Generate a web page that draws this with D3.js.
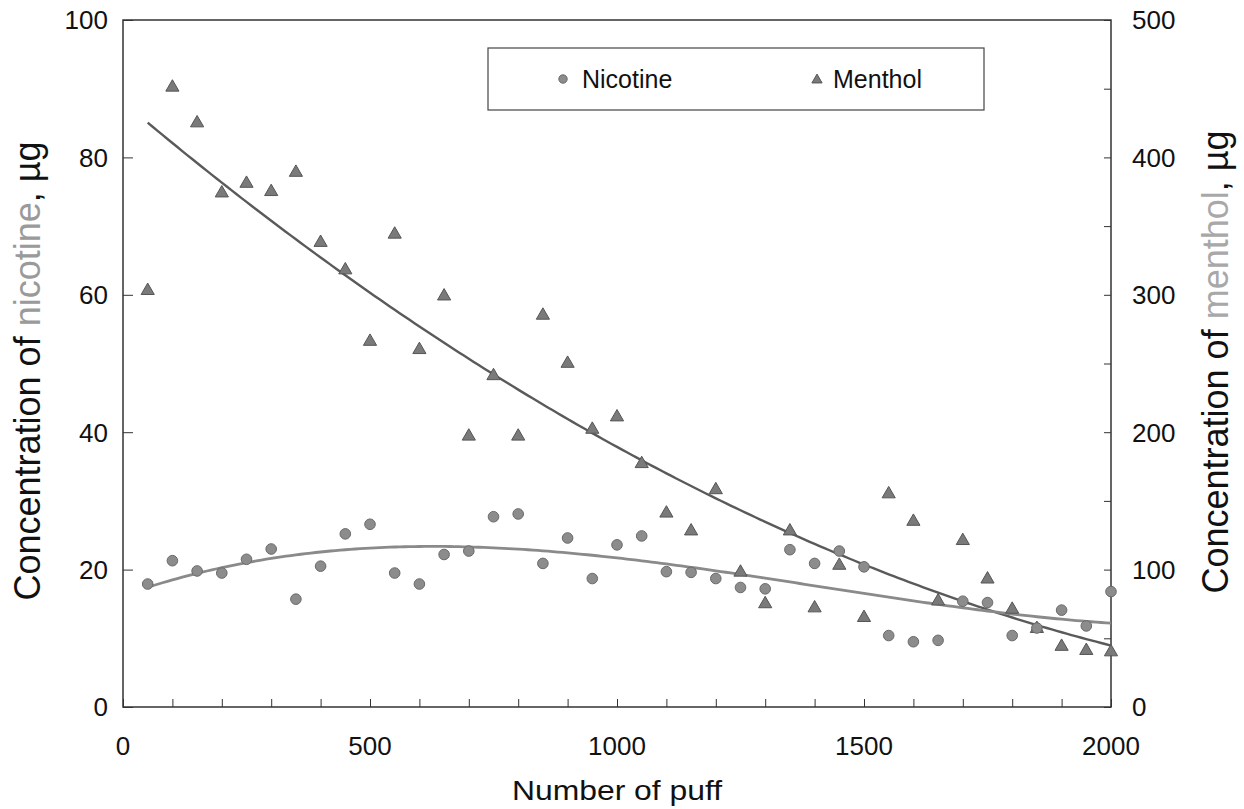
<!DOCTYPE html>
<html>
<head>
<meta charset="utf-8">
<script src="https://cdn.jsdelivr.net/npm/d3@7"></script>
<style>
  body { margin: 0; background: #fff; }
  text { font-family: "Liberation Sans", Arial, sans-serif; fill: #111; }
</style>
</head>
<body>
<div id="chart"></div>
<script>
var width  = 1244,
    height = 809,
    margin = { top: 20, right: 133, bottom: 102, left: 123 };

// puff number for every sample
var puffs = [50, 100, 150, 200, 250, 300, 350, 400, 450, 500,
             550, 600, 650, 700, 750, 800, 850, 900, 950, 1000,
             1050, 1100, 1150, 1200, 1250, 1300, 1350, 1400, 1450, 1500,
             1550, 1600, 1650, 1700, 1750, 1800, 1850, 1900, 1950, 2000];

// nicotine, µg (left axis)
var nicotine = [17.9, 21.3, 19.8, 19.5, 21.5, 23.0, 15.7, 20.5, 25.2, 26.6,
                19.5, 17.9, 22.2, 22.7, 27.7, 28.1, 20.9, 24.6, 18.7, 23.6,
                24.9, 19.7, 19.6, 18.7, 17.4, 17.2, 22.9, 20.9, 22.7, 20.4,
                10.4, 9.5, 9.7, 15.4, 15.2, 10.4, 11.5, 14.1, 11.8, 16.8];

// menthol, µg (right axis)
var menthol = [303, 451, 425, 374, 381, 375, 389, 338, 318, 266,
               344, 260, 299, 197, 241, 197, 285, 250, 202, 211,
               177, 141, 128, 158, 98, 75, 128, 72, 103, 65,
               155, 135, 77, 121, 93, 71, 57, 44, 41, 40];

var xTicks = [0, 500, 1000, 1500, 2000];
var yLeftTicks = [0, 20, 40, 60, 80, 100];
var yRightTicks = [0, 100, 200, 300, 400, 500];

var innerW = width - margin.left - margin.right,
    innerH = height - margin.top - margin.bottom;

var x = d3.scaleLinear().domain([0, 2000]).range([0, innerW]);
var yL = d3.scaleLinear().domain([0, 100]).range([innerH, 0]);
var yR = d3.scaleLinear().domain([0, 500]).range([innerH, 0]);

var svg = d3.select("#chart").append("svg")
    .attr("width", width)
    .attr("height", height);

var plot = svg.append("g")
    .attr("transform", "translate(" + margin.left + "," + margin.top + ")");

// least squares polynomial, like a spreadsheet trendline
function polyFit(xs, ys, order) {
    var n = order + 1, A = [], i, j, k;
    for (i = 0; i < n; i++) {
        A.push([]);
        for (j = 0; j < n; j++) {
            A[i].push(d3.sum(xs, function(v) { return Math.pow(v / 1000, i + j); }));
        }
        A[i].push(d3.sum(xs, function(v, idx) { return ys[idx] * Math.pow(v / 1000, i); }));
    }
    for (i = 0; i < n; i++) {
        for (k = i + 1; k < n; k++) {
            var f = A[k][i] / A[i][i];
            for (j = i; j <= n; j++) A[k][j] -= f * A[i][j];
        }
    }
    var c = new Array(n);
    for (i = n - 1; i >= 0; i--) {
        var s = A[i][n];
        for (j = i + 1; j < n; j++) s -= A[i][j] * c[j];
        c[i] = s / A[i][i];
    }
    return function(v) {
        return d3.sum(c, function(cc, p) { return cc * Math.pow(v / 1000, p); });
    };
}

// frame
plot.append("rect")
    .attr("width", innerW)
    .attr("height", innerH)
    .attr("fill", "none")
    .attr("stroke", "#333")
    .attr("stroke-width", 1.5);

// bottom axis, ticks pointing inward
var gx = plot.append("g")
    .attr("transform", "translate(0," + innerH + ")")
    .call(d3.axisBottom(x).tickValues(d3.range(0, 2001, 100)).tickSize(-8).tickFormat(""));
gx.select(".domain").remove();
gx.selectAll("line").attr("stroke", "#333");

plot.selectAll(".xlab")
    .data(xTicks)
    .enter().append("text")
    .attr("x", function(d) { return x(d); })
    .attr("y", innerH + 48)
    .attr("text-anchor", "middle")
    .style("font-size", "26px")
    .text(function(d) { return d; });

// left axis
var gl = plot.append("g")
    .call(d3.axisLeft(yL).tickValues(yLeftTicks).tickSize(-10).tickFormat(""));
gl.select(".domain").remove();
gl.selectAll("line").attr("stroke", "#333");

plot.selectAll(".ylab")
    .data(yLeftTicks)
    .enter().append("text")
    .attr("x", -15)
    .attr("y", function(d) { return yL(d); })
    .attr("dy", "0.36em")
    .attr("text-anchor", "end")
    .style("font-size", "26px")
    .text(function(d) { return d; });

// right axis
var gr = plot.append("g")
    .attr("transform", "translate(" + innerW + ",0)")
    .call(d3.axisRight(yR).tickValues(d3.range(0, 501, 50)).tickSize(-7).tickFormat(""));
gr.select(".domain").remove();
gr.selectAll("line").attr("stroke", "#333");

plot.selectAll(".yrlab")
    .data(yRightTicks)
    .enter().append("text")
    .attr("x", innerW + 21)
    .attr("y", function(d) { return yR(d); })
    .attr("dy", "0.36em")
    .attr("text-anchor", "start")
    .style("font-size", "26px")
    .text(function(d) { return d; });

// trendlines
var fitN = polyFit(puffs, nicotine, 3);
var fitM = polyFit(puffs, menthol, 2);
var xs = d3.range(50, 2001, 10);

plot.append("path")
    .datum(xs)
    .attr("fill", "none")
    .attr("stroke", "#5a5a5a")
    .attr("stroke-width", 2.4)
    .attr("d", d3.line()
        .x(function(d) { return x(d); })
        .y(function(d) { return yR(fitM(d)); }));

plot.append("path")
    .datum(xs)
    .attr("fill", "none")
    .attr("stroke", "#8a8a8a")
    .attr("stroke-width", 2.8)
    .attr("d", d3.line()
        .x(function(d) { return x(d); })
        .y(function(d) { return yL(fitN(d)); }));

// markers
var tri = d3.symbol().type(d3.symbolTriangle).size(75);

plot.selectAll(".men")
    .data(puffs)
    .enter().append("path")
    .attr("d", tri)
    .attr("transform", function(d, i) {
        return "translate(" + x(d) + "," + yR(menthol[i]) + ")";
    })
    .attr("fill", "#7a7a7a")
    .attr("stroke", "#555")
    .attr("stroke-width", 1);

plot.selectAll(".nic")
    .data(puffs)
    .enter().append("circle")
    .attr("cx", function(d) { return x(d); })
    .attr("cy", function(d, i) { return yL(nicotine[i]); })
    .attr("r", 5.3)
    .attr("fill", "#8c8c8c")
    .attr("stroke", "#6a6a6a")
    .attr("stroke-width", 1);

// legend
var legend = svg.append("g");
legend.append("rect")
    .attr("x", 488).attr("y", 48)
    .attr("width", 496).attr("height", 62)
    .attr("fill", "#fff")
    .attr("stroke", "#444")
    .attr("stroke-width", 1.2);
legend.append("circle")
    .attr("cx", 563).attr("cy", 79).attr("r", 4.2)
    .attr("fill", "#8c8c8c").attr("stroke", "#6a6a6a");
legend.append("text")
    .attr("x", 582).attr("y", 79).attr("dy", "0.36em")
    .style("font-size", "25px")
    .text("Nicotine");
legend.append("path")
    .attr("d", d3.symbol().type(d3.symbolTriangle).size(45))
    .attr("transform", "translate(817,80)")
    .attr("fill", "#7a7a7a").attr("stroke", "#555");
legend.append("text")
    .attr("x", 833).attr("y", 79).attr("dy", "0.36em")
    .style("font-size", "25px")
    .text("Menthol");

// axis titles
svg.append("text")
    .attr("transform", "translate(" + (margin.left + innerW / 2) + ",800) scale(1.18,1)")
    .attr("text-anchor", "middle")
    .style("font-size", "27px")
    .text("Number of puff");

var tl = svg.append("text")
    .attr("transform", "translate(40,371) rotate(-90)")
    .attr("text-anchor", "middle")
    .style("font-size", "36px");
tl.append("tspan").text("Concentration of ");
tl.append("tspan").style("fill", "#9a9a9a").text("nicotine");
tl.append("tspan").text(", µg");

var tr = svg.append("text")
    .attr("transform", "translate(1228,362) rotate(-90)")
    .attr("text-anchor", "middle")
    .style("font-size", "36px");
tr.append("tspan").text("Concentration of ");
tr.append("tspan").style("fill", "#a8a8a8").text("menthol");
tr.append("tspan").text(", µg");
</script>
</body>
</html>
